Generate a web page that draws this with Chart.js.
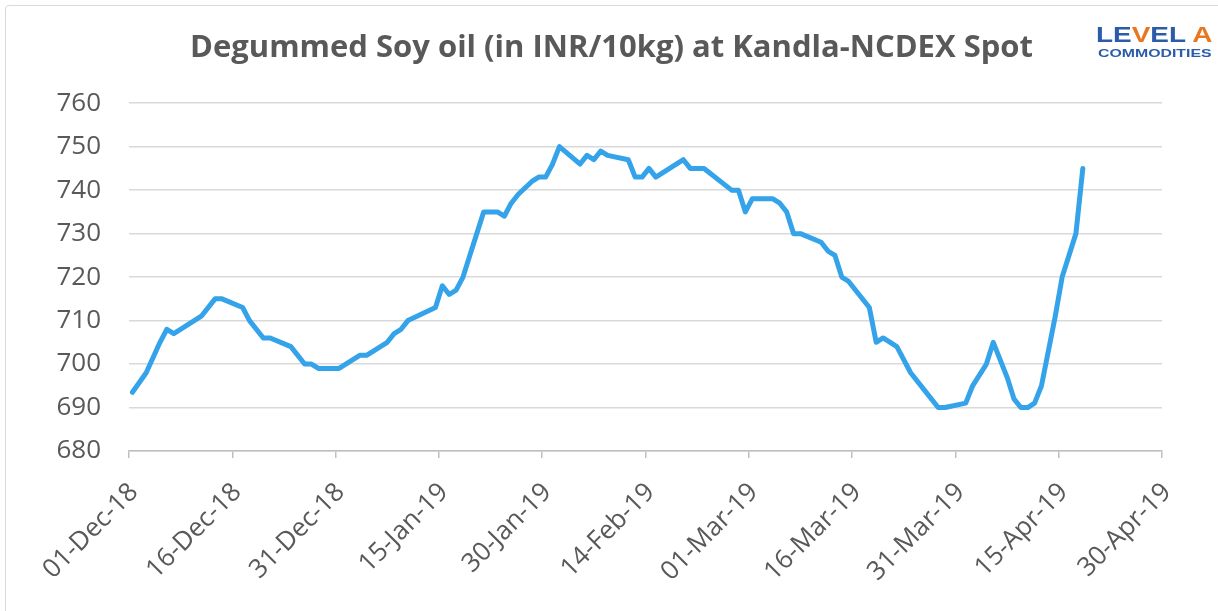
<!DOCTYPE html>
<html>
<head>
<meta charset="utf-8">
<script src="https://cdn.jsdelivr.net/npm/chart.js@4.4.1/dist/chart.umd.min.js"></script>
<style>
  html, body { margin: 0; padding: 0; background: #ffffff; }
  #wrap { position: relative; width: 1218px; height: 611px; overflow: hidden; }
  #frame { position: absolute; left: 5px; top: 5px; width: 1300px; height: 700px; border: 1.5px solid #d9d9d9; border-radius: 4px; }
  canvas { position: absolute; left: 0; top: 0; }
  .logo1 { position: absolute; left: 1096px; top: 24px; font-family: "Liberation Sans", Arial, sans-serif; font-weight: bold; font-size: 22px; color: #2a5caa; line-height: 22px; white-space: nowrap; transform: scaleX(1.27); transform-origin: left top; }
  .logo1 .o { color: #e87722; }
  .logo2 { position: absolute; left: 1098px; top: 48px; font-family: "Liberation Sans", Arial, sans-serif; font-weight: bold; font-size: 11px; color: #2a5caa; line-height: 11px; white-space: nowrap; transform: scaleX(1.44); transform-origin: left top; }
</style>
</head>
<body>
<div id="wrap">
  <div id="frame"></div>
  <canvas id="c" width="1218" height="611"></canvas>
  <div class="logo1">LE<span class="o">V</span>EL <span class="o">A</span></div>
  <div class="logo2">COMMODITIES</div>
</div>
<script>
const chartTitle = 'Degummed Soy oil (in INR/10kg) at Kandla-NCDEX Spot';
const dates = [
  '2018-12-01','2018-12-03','2018-12-04','2018-12-05','2018-12-06','2018-12-07','2018-12-11','2018-12-13','2018-12-14',
  '2018-12-17','2018-12-18','2018-12-20','2018-12-21','2018-12-24','2018-12-26','2018-12-27','2018-12-28','2018-12-31',
  '2019-01-03','2019-01-04','2019-01-07','2019-01-08','2019-01-09','2019-01-10','2019-01-14','2019-01-15','2019-01-16',
  '2019-01-17','2019-01-18','2019-01-19','2019-01-20','2019-01-21','2019-01-23','2019-01-24','2019-01-25','2019-01-26',
  '2019-01-28','2019-01-29','2019-01-30','2019-01-31','2019-02-01','2019-02-04','2019-02-05','2019-02-06','2019-02-07',
  '2019-02-08','2019-02-11','2019-02-12','2019-02-13','2019-02-14','2019-02-15','2019-02-19','2019-02-20','2019-02-22',
  '2019-02-26','2019-02-27','2019-02-28','2019-03-01','2019-03-04','2019-03-05','2019-03-06','2019-03-07','2019-03-08',
  '2019-03-11','2019-03-12','2019-03-13','2019-03-14','2019-03-15','2019-03-18','2019-03-19','2019-03-20','2019-03-22',
  '2019-03-24','2019-03-26','2019-03-28','2019-03-29','2019-04-01','2019-04-02','2019-04-04','2019-04-05','2019-04-07',
  '2019-04-08','2019-04-09','2019-04-10','2019-04-11','2019-04-12','2019-04-14','2019-04-15','2019-04-17','2019-04-18'
];
const prices = [
  693.5,698,701.5,705,708,707,711,715,715,
  713,710,706,706,704,700,700,699,699,
  702,702,705,707,708,710,713,718,716,
  717,720,725,730,735,735,734,737,739,
  742,743,743,746,750,746,748,747,749,
  748,747,743,743,745,743,747,745,745,
  740,740,735,738,738,737,735,730,730,
  728,726,725,720,719,713,705,706,704,
  698,694,690,690,691,695,700,705,697,
  692,690,690,691,695,711,720,730,745
];
const xTickLabels = ['01-Dec-18','16-Dec-18','31-Dec-18','15-Jan-19','30-Jan-19','14-Feb-19','01-Mar-19','16-Mar-19','31-Mar-19','15-Apr-19','30-Apr-19'];
const yMin = 680, yMax = 760, yStep = 10;
const xStart = Date.UTC(2018, 11, 1);
const dayMs = 86400000;
const xStepDays = 15;

const points = dates.map((d, i) => {
  const p = d.split('-').map(Number);
  return { x: (Date.UTC(p[0], p[1] - 1, p[2]) - xStart) / dayMs + 0.5, y: prices[i] };
});

const tickFont = { family: '"Open Sans", "Noto Sans", sans-serif', size: 26 };
const grey = '#595959';

new Chart(document.getElementById('c'), {
  type: 'line',
  data: {
    datasets: [{
      data: points,
      borderColor: '#35a3ea',
      borderWidth: 5,
      pointRadius: 0,
      tension: 0,
      borderJoinStyle: 'round',
      borderCapStyle: 'round',
      fill: false
    }]
  },
  options: {
    responsive: false,
    animation: false,
    events: [],
    layout: { padding: { left: 5, right: 0, top: 0, bottom: 0 } },
    plugins: {
      legend: { display: false },
      tooltip: { enabled: false },
      title: {
        display: true,
        text: chartTitle,
        color: grey,
        font: { family: '"Open Sans", sans-serif', size: 31, weight: 'bold', lineHeight: 1.2 },
        padding: { top: 30, bottom: 36 }
      }
    },
    scales: {
      x: {
        type: 'linear',
        min: 0,
        max: (xTickLabels.length - 1) * xStepDays,
        afterBuildTicks: (s) => { s.ticks = xTickLabels.map((_, i) => ({ value: i * xStepDays })); },
        afterFit: (s) => { s.height = 160; },
        ticks: {
          autoSkip: false,
          minRotation: 45,
          maxRotation: 45,
          padding: 19,
          labelOffset: 5,
          color: grey,
          font: tickFont,
          callback: (v) => xTickLabels[Math.round(v / xStepDays)]
        },
        grid: { drawOnChartArea: false, drawTicks: true, tickLength: 7, color: '#bfbfbf', lineWidth: 1.5 },
        border: { display: true, color: '#bfbfbf', width: 1.5 }
      },
      y: {
        min: yMin,
        max: yMax,
        afterFit: (s) => { s.width = 124; },
        ticks: { stepSize: yStep, padding: 28, color: grey, font: tickFont },
        grid: { color: '#d9d9d9', lineWidth: 1.5, drawTicks: false },
        border: { display: false }
      },
      rightSpace: {
        axis: 'y',
        position: 'right',
        display: true,
        min: yMin,
        max: yMax,
        afterFit: (s) => { s.width = 56; },
        ticks: { display: false },
        grid: { display: false, drawTicks: false },
        border: { display: false }
      }
    }
  }
});
</script>
</body>
</html>
